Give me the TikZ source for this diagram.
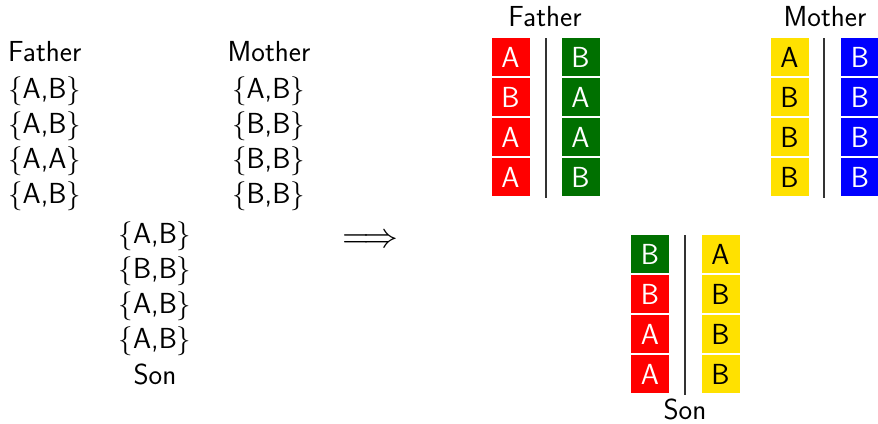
\RequirePackage{fix-cm}
\documentclass[tikz,border=0pt]{standalone}
\usepackage{graphicx}
\definecolor{gr}{RGB}{0,112,0}
\definecolor{ye}{RGB}{255,225,0}
\definecolor{bl}{RGB}{0,0,255}
\definecolor{rd}{RGB}{255,0,0}
\newcommand{\pr}[2]{$\{$#1,#2$\}$}
\tikzset{
  lbl/.style={font=\sffamily\fontsize{29}{35}\selectfont, inner sep=0pt},
  cell/.style={lbl, minimum width=38pt, minimum height=38pt, text height=20pt, text depth=0pt},
  redcell/.style={cell, fill=rd, text=white},
  greencell/.style={cell, fill=gr, text=white},
  bluecell/.style={cell, fill=bl, text=white},
  yellowcell/.style={cell, fill=ye, text=black},
  divider/.style={draw=black!80, line width=1.2pt},
}
\begin{document}
\begin{tikzpicture}[x=1pt,y=-1pt]
\useasboundingbox (0,0) rectangle (878,423);
% left listing
\node[lbl, anchor=base west] (lf) at (8,61) {Father};
\node[lbl, anchor=base west] (lf1) at (8,98) {\pr{A}{B}};
\node[lbl, anchor=base west] (lf2) at (8,133) {\pr{A}{B}};
\node[lbl, anchor=base west] (lf3) at (8,168) {\pr{A}{A}};
\node[lbl, anchor=base west] (lf4) at (8,203) {\pr{A}{B}};
\node[lbl, anchor=base] (lm) at (269,61) {Mother};
\node[lbl, anchor=base] (lm1) at (268.5,98) {\pr{A}{B}};
\node[lbl, anchor=base] (lm2) at (268.5,133) {\pr{B}{B}};
\node[lbl, anchor=base] (lm3) at (268.5,168) {\pr{B}{B}};
\node[lbl, anchor=base] (lm4) at (268.5,203) {\pr{B}{B}};
\node[lbl, anchor=base] (ls1) at (155,243) {\pr{A}{B}};
\node[lbl, anchor=base] (ls2) at (155,278) {\pr{B}{B}};
\node[lbl, anchor=base] (ls3) at (155,313) {\pr{A}{B}};
\node[lbl, anchor=base] (ls4) at (155,348) {\pr{A}{B}};
\node[lbl, anchor=base] (ls) at (155,384) {Son};
% arrow
\node[inner sep=0pt] (arr) at (370,241) {\resizebox{56pt}{!}{$\Longrightarrow$}};
% Father chromosomes
\node[lbl, anchor=base] (rf) at (545,27) {Father};
\node[redcell] (f11) at (510.5,57) {A};
\node[redcell] (f12) at (510.5,97) {B};
\node[redcell] (f13) at (510.5,137) {A};
\node[redcell] (f14) at (510.5,177) {A};
\node[greencell] (f21) at (580.5,57) {B};
\node[greencell] (f22) at (580.5,97) {A};
\node[greencell] (f23) at (580.5,137) {A};
\node[greencell] (f24) at (580.5,177) {B};
\coordinate (fdt) at (546,38);
\coordinate (fdb) at (546,198);
\draw[divider] (fdt) -- (fdb);
% Mother chromosomes
\node[lbl, anchor=base] (rm) at (825,27) {Mother};
\node[yellowcell] (m11) at (789.5,57) {A};
\node[yellowcell] (m12) at (789.5,97) {B};
\node[yellowcell] (m13) at (789.5,137) {B};
\node[yellowcell] (m14) at (789.5,177) {B};
\node[bluecell] (m21) at (860,57) {B};
\node[bluecell] (m22) at (860,97) {B};
\node[bluecell] (m23) at (860,137) {B};
\node[bluecell] (m24) at (860,177) {B};
\coordinate (mdt) at (824,38);
\coordinate (mdb) at (824,198);
\draw[divider] (mdt) -- (mdb);
% Son chromosomes
\node[greencell] (s11) at (650,254) {B};
\node[redcell] (s12) at (650,294) {B};
\node[redcell] (s13) at (650,334) {A};
\node[redcell] (s14) at (650,374) {A};
\node[yellowcell] (s21) at (720.5,254) {A};
\node[yellowcell] (s22) at (720.5,294) {B};
\node[yellowcell] (s23) at (720.5,334) {B};
\node[yellowcell] (s24) at (720.5,374) {B};
\coordinate (sdt) at (685,235);
\coordinate (sdb) at (685,395);
\draw[divider] (sdt) -- (sdb);
\node[lbl, anchor=base] (rs) at (685,419) {Son};
\end{tikzpicture}
\end{document}
